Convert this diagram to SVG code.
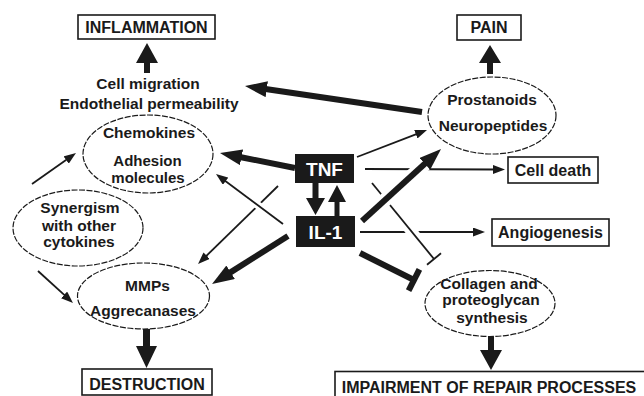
<svg xmlns="http://www.w3.org/2000/svg" width="644" height="396" viewBox="0 0 644 396">
<defs>
<style>
text{font-family:"Liberation Sans",Arial,sans-serif;font-weight:bold;fill:#1a1a1a;text-anchor:middle}
.t{font-size:15.5px}
.s{font-size:15px}
.b{font-size:16px}
.w{font-size:19px;fill:#fff}
.box{fill:#fff;stroke:#1a1a1a;stroke-width:1.6}
.blk{fill:#1a1a1a}
.ell{fill:#fff;stroke:#1a1a1a;stroke-width:1.2;stroke-dasharray:6 1.5}
.thin{stroke:#1a1a1a;stroke-width:1.8;fill:none}
.thick{stroke:#1a1a1a;stroke-width:6;fill:none}
.halo{stroke:#fff;fill:none}
</style>
<marker id="ah" markerUnits="userSpaceOnUse" markerWidth="12" markerHeight="9" refX="2" refY="4.5" orient="auto"><path d="M0,0 L12,4.5 L0,9 z" fill="#1a1a1a"/></marker>
<marker id="AH" markerUnits="userSpaceOnUse" markerWidth="22" markerHeight="16" refX="3" refY="8" orient="auto"><path d="M0,0 L22,8 L0,16 z" fill="#1a1a1a"/></marker>
</defs>
<rect width="644" height="396" fill="#fff"/>
<g id="connectors">
<line class="thin" x1="360" y1="232" x2="475" y2="232" marker-end="url(#ah)"/>
<line class="halo" stroke-width="11" x1="375" y1="187" x2="430" y2="254"/>
<line class="thin" x1="372" y1="183" x2="434" y2="259"/>
<line class="thin" x1="427" y1="264.7" x2="441" y2="253.3"/>
<line class="thin" x1="365" y1="169" x2="495" y2="169.5" marker-end="url(#ah)"/>
<line class="halo" stroke-width="14" x1="364" y1="219" x2="425" y2="164"/>
<line class="thick" x1="362" y1="221" x2="427" y2="161.8" marker-end="url(#AH)"/>
<line class="thin" x1="278" y1="186" x2="205.2" y2="257" marker-end="url(#ah)"/>
<line class="halo" stroke-width="8" x1="281" y1="222.5" x2="228" y2="183"/>
<line class="thin" x1="283" y1="224" x2="224" y2="180" marker-end="url(#ah)"/>
<line class="thick" x1="295" y1="168" x2="238.6" y2="156.7" marker-end="url(#AH)"/>
<line class="thick" x1="288" y1="236" x2="228.1" y2="273.9" marker-end="url(#AH)"/>
<line class="thin" x1="357" y1="157" x2="417.7" y2="133.6" marker-end="url(#ah)"/>
<line class="thick" x1="422" y1="112" x2="263.8" y2="88.8" marker-end="url(#AH)"/>
<line class="thick" x1="360" y1="253" x2="414" y2="280"/>
<line class="thick" x1="408.6" y1="290.7" x2="419.4" y2="269.3"/>
<line class="thin" x1="32" y1="184" x2="67.8" y2="158.8" marker-end="url(#ah)"/>
<line class="thin" x1="38" y1="271" x2="65.6" y2="296.2" marker-end="url(#ah)"/>
<polygon class="blk" points="144,73 144,63 136,63 147,43 158,63 150,63 150,73"/>
<polygon class="blk" points="487,74 487,63 479,63 490,45 501,63 493,63 493,74"/>
<polygon class="blk" points="143,329 143,346 136,346 146.5,368 157,346 150,346 150,329"/>
<polygon class="blk" points="488,336 488,350 480,350 491,370 502,350 494,350 494,336"/>
<polygon class="blk" points="312.5,183 312.5,198 306,198 315.5,215 325,198 318.5,198 318.5,183"/>
<polygon class="blk" points="334.5,216 334.5,202 328,202 337,185 346,202 339.5,202 339.5,216"/>
</g>
<g id="inflammation"><rect class="box" x="78" y="15" width="137" height="24"/><text class="b" x="146.5" y="33">INFLAMMATION</text></g>
<g id="pain"><rect class="box" x="457" y="15" width="64" height="25"/><text class="b" x="489" y="33.3">PAIN</text></g>
<g id="cellmigration"><text class="t" x="148" y="88.5">Cell migration</text><text class="t" x="149" y="108.5">Endothelial permeability</text></g>
<g id="chemokines"><ellipse class="ell" cx="148" cy="154" rx="65" ry="39"/><text class="t" x="149" y="138">Chemokines</text><text class="s" x="147.5" y="165.5">Adhesion</text><text class="s" x="148" y="182.5">molecules</text></g>
<g id="prostanoids"><ellipse class="ell" cx="492" cy="115.5" rx="64" ry="38.5"/><text class="t" x="492" y="104.5">Prostanoids</text><text class="t" x="493" y="131">Neuropeptides</text></g>
<g id="tnf"><rect class="blk" x="295" y="154" width="59" height="29"/><text class="w" x="324.5" y="175.5">TNF</text></g>
<g id="il1"><rect class="blk" x="296" y="216" width="59" height="31"/><text class="w" x="325.5" y="238.5">IL-1</text></g>
<g id="celldeath"><rect class="box" x="508" y="157" width="90" height="26"/><text class="b" x="553" y="175.7">Cell death</text></g>
<g id="angiogenesis"><rect class="box" x="492" y="219" width="117" height="27"/><text class="b" x="550.5" y="238.2">Angiogenesis</text></g>
<g id="synergism"><ellipse class="ell" cx="78" cy="228" rx="65" ry="38"/><text class="t" x="80" y="213">Synergism</text><text class="t" x="79" y="231">with other</text><text class="t" x="79" y="247">cytokines</text></g>
<g id="mmps"><ellipse class="ell" cx="143.5" cy="296" rx="66" ry="33"/><text class="t" x="147.5" y="291">MMPs</text><text class="t" x="143" y="316">Aggrecanases</text></g>
<g id="collagen"><ellipse class="ell" cx="490" cy="303.5" rx="65" ry="33"/><text class="t" x="489" y="289">Collagen and</text><text class="t" x="491" y="305">proteoglycan</text><text class="t" x="492" y="323">synthesis</text></g>
<g id="destruction"><rect class="box" x="82" y="369" width="130" height="26"/><text class="b" x="147" y="389.5">DESTRUCTION</text></g>
<g id="impairment"><rect class="box" x="335" y="371.5" width="312" height="26"/><text class="b" x="489" y="392.5">IMPAIRMENT OF REPAIR PROCESSES</text></g>
</svg>
